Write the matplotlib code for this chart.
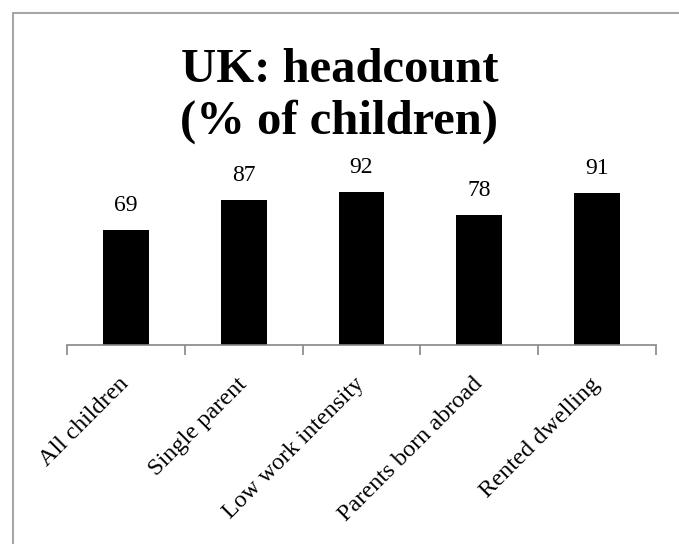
import matplotlib
matplotlib.use('Agg')
import matplotlib.pyplot as plt
from matplotlib.patches import Rectangle

# chart data
categories = ['All children', 'Single parent', 'Low work intensity',
              'Parents born abroad', 'Rented dwelling']
values = [69, 87, 92, 78, 91]
title = 'UK: headcount\n(% of children)'

plt.rcParams['font.family'] = ['Liberation Serif', 'DejaVu Serif']

fig = plt.figure(figsize=(6.79, 5.44), dpi=100)

# outer chart border (top and left edges visible)
fig.patches.append(Rectangle((13 / 679, -0.1), 1.2, 1 - 13 / 544 + 0.1,
                             transform=fig.transFigure, fill=False,
                             edgecolor='#a6a6a6', linewidth=1.5))

ax = fig.add_axes([67 / 679, 199 / 544, 589 / 679, 166.7 / 544])
x = range(len(categories))
bars = ax.bar(x, values, width=0.39, color='black')

for xi, v in zip(x, values):
    ax.annotate(str(v), (xi, v), xytext=(0, 10), textcoords='offset points',
                ha='center', va='bottom', fontsize=17)

ax.set_xlim(-0.5, len(categories) - 0.5)
ax.set_ylim(0, 100)
ax.set_yticks([])
for s in ['top', 'right', 'left']:
    ax.spines[s].set_visible(False)
ax.spines['bottom'].set_color('#868686')
ax.spines['bottom'].set_linewidth(1.2)

# tick marks on the category boundaries, labels at the bar centres
ax.set_xticks([i - 0.5 for i in range(len(categories) + 1)])
ax.set_xticklabels([])
ax.tick_params(axis='x', which='major', length=7, width=1.2,
               color='#868686', direction='out')
ax.set_xticks(list(x), minor=True)
ax.set_xticklabels(categories, minor=True, rotation=45, ha='right',
                   va='center', rotation_mode='anchor', fontsize=17.5)
ax.tick_params(axis='x', which='minor', length=0, pad=26)

fig.text(0.5, 1 - 134 / 544, title, ha='center', va='baseline',
         fontsize=35, fontweight='bold', linespacing=1.22)

fig.savefig('out.png', dpi=100)
